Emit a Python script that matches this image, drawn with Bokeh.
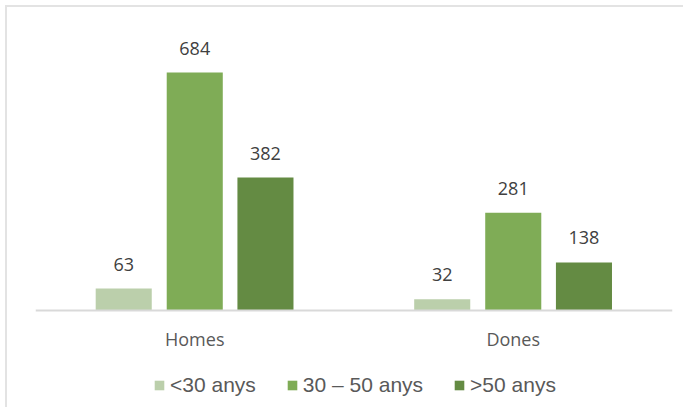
from bokeh.plotting import figure
from bokeh.models import ColumnDataSource, FactorRange, Range1d, LabelSet, Legend, LegendItem, Span
from bokeh.transform import dodge
from bokeh.core.properties import value
from bokeh.embed import file_html
from bokeh.resources import INLINE

categories = ["Homes", "Dones"]
series_names = ["<30 anys", "30 \u2013 50 anys", ">50 anys"]
under30 = [63, 32]
from30to50 = [684, 281]
over50 = [382, 138]
colors = ["#BBCFAB", "#7FAC56", "#648B43"]

source = ColumnDataSource(data=dict(
    cat=categories,
    s0=under30, s1=from30to50, s2=over50,
    l0=[str(v) for v in under30],
    l1=[str(v) for v in from30to50],
    l2=[str(v) for v in over50],
))

# frame: 381 px tall, baseline 99 px above the frame bottom, 0.348 px per unit
px_per_unit = 238.0 / 684.0
y_top = 282 / px_per_unit
y_bottom = -99 / px_per_unit

p = figure(x_range=FactorRange(*categories, range_padding=0), y_range=Range1d(y_bottom, y_top),
           width=678, height=402, output_backend="svg", toolbar_location=None,
           x_axis_location=None, y_axis_location=None,
           min_border_left=28, min_border_right=13, min_border_top=21, min_border_bottom=0)
p.background_fill_color = "white"
p.border_fill_color = "white"
p.outline_line_color = None
p.xgrid.visible = False
p.ygrid.visible = False

p.add_layout(Span(location=0, dimension="width", line_color="#D9D9D9", line_width=2))

offsets = [-0.223, 0.0, 0.222]
fields = ["s0", "s1", "s2"]
lfields = ["l0", "l1", "l2"]
items = []
for i in range(3):
    r = p.vbar(x=dodge("cat", offsets[i], range=p.x_range), top=fields[i], bottom=0, width=0.176,
               source=source, color=colors[i], line_color=None)
    items.append(LegendItem(label=series_names[i], renderers=[r]))
    labels = LabelSet(x=dodge("cat", offsets[i], range=p.x_range), y=fields[i], text=lfields[i],
                      source=source, text_align="center", text_baseline="alphabetic",
                      y_offset=18, text_font=value("Open Sans"), text_font_size=value("18px"),
                      text_color=value("#404040"))
    p.add_layout(labels)

cat_labels = LabelSet(x="cat", y=0, text="cat", source=source, text_align="center",
                      text_baseline="middle", y_offset=-28, text_font=value("Open Sans"),
                      text_font_size=value("18px"), text_color=value("#595959"))
p.add_layout(cat_labels)

legend = Legend(items=items, orientation="horizontal", location=(118, 12))
legend.border_line_color = None
legend.background_fill_alpha = 0
legend.label_text_font = "Liberation Sans"
legend.label_text_font_size = "21px"
legend.label_text_color = "#595959"
legend.glyph_width = 12
legend.glyph_height = 12
legend.label_height = 21
legend.label_standoff = 5
legend.spacing = 30
legend.padding = 0
legend.margin = 0
p.add_layout(legend)

p.styles = {"margin-left": "5px", "margin-top": "5px",
            "border-top": "2px solid #E3E3E3", "border-left": "2px solid #E3E3E3"}

open("out.html", "w").write(file_html(p, INLINE))
